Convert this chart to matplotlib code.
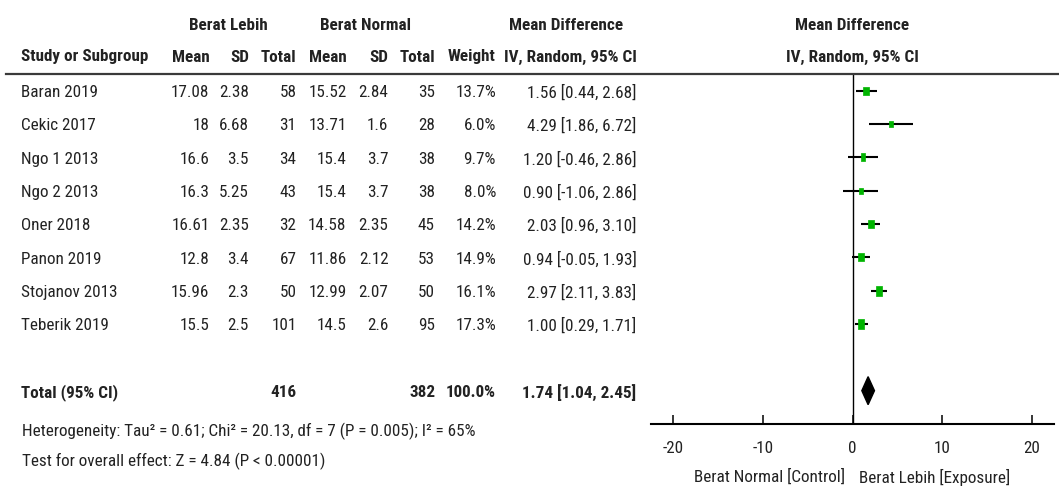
import numpy as np
import matplotlib.pyplot as plt
from matplotlib import transforms
from matplotlib import font_manager as fm
from matplotlib.lines import Line2D

# pick a narrow font if there is one, else an Arial-like one
installed = {f.name for f in fm.fontManager.ttflist}
family = next((n for n in ['Liberation Sans Narrow', 'Arial Narrow', 'Roboto Condensed',
                           'Liberation Sans'] if n in installed), 'DejaVu Sans')
plt.rcParams['font.family'] = [family, 'DejaVu Sans']
plt.rcParams['axes.unicode_minus'] = False

# study data
studies = ['Baran 2019', 'Cekic 2017', 'Ngo 1 2013', 'Ngo 2 2013',
           'Oner 2018', 'Panon 2019', 'Stojanov 2013', 'Teberik 2019']
mean1 = [17.08, 18, 16.6, 16.3, 16.61, 12.8, 15.96, 15.5]
sd1 = [2.38, 6.68, 3.5, 5.25, 2.35, 3.4, 2.3, 2.5]
n1 = [58, 31, 34, 43, 32, 67, 50, 101]
mean2 = [15.52, 13.71, 15.4, 15.4, 14.58, 11.86, 12.99, 14.5]
sd2 = [2.84, 1.6, 3.7, 3.7, 2.35, 2.12, 2.07, 2.6]
n2 = [35, 28, 38, 38, 45, 53, 50, 95]
weight = [13.7, 6.0, 9.7, 8.0, 14.2, 14.9, 16.1, 17.3]
md = [1.56, 4.29, 1.20, 0.90, 2.03, 0.94, 2.97, 1.00]
lo = [0.44, 1.86, -0.46, -1.06, 0.96, -0.05, 2.11, 0.29]
hi = [2.68, 6.72, 2.86, 2.86, 3.10, 1.93, 3.83, 1.71]

# pooled estimate
tot_weight = 100.0
tot_md, tot_lo, tot_hi = 1.74, 1.04, 2.45
het_text = 'Heterogeneity: Tau\u00b2 = 0.61; Chi\u00b2 = 20.13, df = 7 (P = 0.005); I\u00b2 = 65%'
effect_text = 'Test for overall effect: Z = 4.84 (P < 0.00001)'

W, H = 1059, 488
fig = plt.figure(figsize=(W / 100, H / 100), dpi=100)

# size the font so the header label is as wide as in the original (~127 px)
probe = fig.text(0, 0, 'Study or Subgroup', fontsize=10, fontweight='bold')
w10 = probe.get_window_extent(fig.canvas.get_renderer()).width
probe.remove()
fs = 10 * 127 / w10

ax = fig.add_axes([650.7 / W, 1 - 424 / H, (1054.3 - 650.7) / W, (424 - 73) / H])
ax.set_xlim(-22.5, 22.5)
ax.set_ylim(10, -0.53)

green = '#00b400'
txt = '#222222'
box = [(-0.33, -0.5), (0.33, -0.5), (0.33, 0.5), (-0.33, 0.5), (-0.33, -0.5)]

rows = np.arange(len(studies))
total_row = len(studies) + 1

for y, m, l, h, w in zip(rows, md, lo, hi, weight):
    ax.plot([l, h], [y, y], color='k', lw=1.5, solid_capstyle='butt')
    ax.plot(m, y, marker=box, ms=1.66 * np.sqrt(w), color=green, mec=green, mew=0.5)

ax.fill([tot_lo, tot_md, tot_hi, tot_md],
        [total_row, total_row - 0.42, total_row, total_row + 0.42], color='k')

ax.axvline(0, color='k', lw=1)
for s in ['left', 'right', 'top']:
    ax.spines[s].set_visible(False)
ax.spines['bottom'].set_linewidth(1.5)
ax.set_yticks([])
ax.set_xticks([-20, -10, 0, 10, 20])
ax.tick_params(axis='x', direction='in', length=6.5, width=1.1, labelsize=fs,
               pad=12, colors='k', labelcolor=txt)
ax.patch.set_visible(False)

def fx(px):
    return px / W

def fy(py):
    return 1 - py / H

# header line
fig.add_artist(Line2D([fx(6), 1.0], [fy(74), fy(74)], color='#3a3a3a', lw=1.6))

# header text
hdr = dict(fontsize=fs, fontweight='bold', color=txt, va='center')
fig.text(fx(228), fy(25), 'Berat Lebih', ha='center', **hdr)
fig.text(fx(366), fy(25), 'Berat Normal', ha='center', **hdr)
fig.text(fx(566), fy(25), 'Mean Difference', ha='center', **hdr)
fig.text(fx(852), fy(25), 'Mean Difference', ha='center', **hdr)

fig.text(fx(21), fy(57), 'Study or Subgroup', ha='left', **hdr)
col_right = [209.5, 249, 296.5, 346.5, 388.5, 435, 496, 636.5]
col_names = ['Mean', 'SD', 'Total', 'Mean', 'SD', 'Total', 'Weight', 'IV, Random, 95% CI']
for xr, name in zip(col_right, col_names):
    fig.text(fx(xr), fy(57), name, ha='right', **hdr)
fig.text(fx(852), fy(57), 'IV, Random, 95% CI', ha='center', **hdr)

# table rows, placed on the forest rows
tr = transforms.blended_transform_factory(fig.transFigure, ax.transData)
cell = dict(fontsize=fs, color=txt, va='center', transform=tr, clip_on=False)
dy = 0.06
for i, y in enumerate(rows):
    ax.text(fx(21), y + dy, studies[i], ha='left', **cell)
    vals = [f'{mean1[i]:g}', f'{sd1[i]:g}', f'{n1[i]}', f'{mean2[i]:g}', f'{sd2[i]:g}',
            f'{n2[i]}', f'{weight[i]:.1f}%', f'{md[i]:.2f} [{lo[i]:.2f}, {hi[i]:.2f}]']
    for xr, v in zip(col_right, vals):
        ax.text(fx(xr), y + dy, v, ha='right', **cell)

bold = dict(cell, fontweight='bold')
ax.text(fx(21), total_row + dy, 'Total (95% CI)', ha='left', **bold)
ax.text(fx(296.5), total_row + dy, f'{sum(n1)}', ha='right', **bold)
ax.text(fx(435), total_row + dy, f'{sum(n2)}', ha='right', **bold)
ax.text(fx(496), total_row + dy, f'{tot_weight:.1f}%', ha='right', **bold)
ax.text(fx(636.5), total_row + dy, f'{tot_md:.2f} [{tot_lo:.2f}, {tot_hi:.2f}]', ha='right', **bold)

fig.text(fx(21.5), fy(431), het_text, ha='left', va='center', fontsize=fs, color=txt)
fig.text(fx(21.5), fy(461), effect_text, ha='left', va='center', fontsize=fs, color=txt)

fig.text(fx(845), fy(477), 'Berat Normal [Control]', ha='right', va='center', fontsize=fs, color=txt)
fig.text(fx(859), fy(477), 'Berat Lebih [Exposure]', ha='left', va='center', fontsize=fs, color=txt)

fig.savefig('out.png', dpi=100)
